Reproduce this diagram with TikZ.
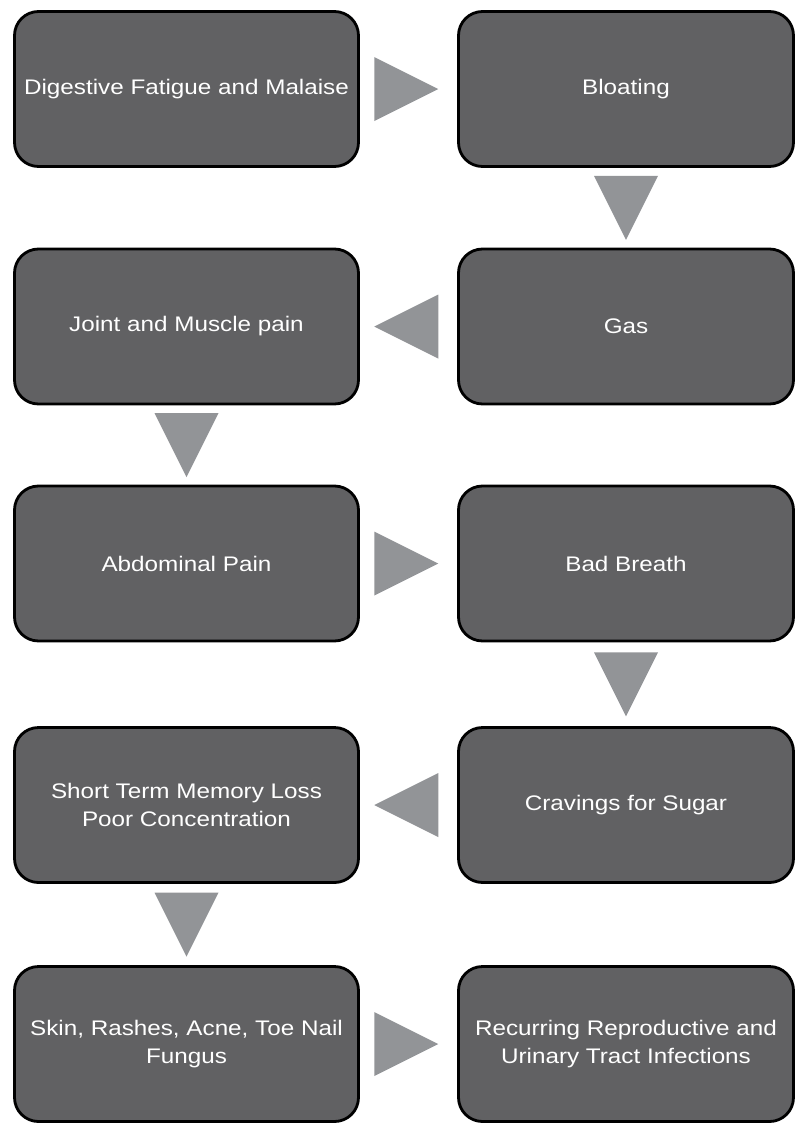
\documentclass[tikz,border=0pt]{standalone}
\usepackage{fontspec}
\setmainfont{Liberation Sans}[FakeStretch=1.15]
\usetikzlibrary{calc}
\definecolor{boxgrey}{HTML}{616163}
\definecolor{arrowgrey}{HTML}{929497}

\begin{document}
\begin{tikzpicture}[
  x=1cm,
  y=1cm,
  symptom/.style={draw=black, line width=2pt, rounded corners=0.6cm, fill=boxgrey, text=white, align=center, font=\fontsize{15}{20}\selectfont, minimum height=3.875cm, inner sep=4pt},
  leftbox/.style={symptom, minimum width=8.6cm},
  rightbox/.style={symptom, minimum width=8.375cm},
  flow/.style={fill=arrowgrey}
]
  \useasboundingbox (0,0) rectangle (19.875,-28.65);

  \node[leftbox]  (digest)   at (4.6625, -2.225)  {Digestive Fatigue and Malaise};
  \node[rightbox] (bloat)    at (15.65, -2.225)   {Bloating};
  \node[rightbox] (gas)      at (15.65, -8.1625)  {Gas};
  \node[leftbox]  (joint)    at (4.6625, -8.1625) {Joint and Muscle pain};
  \node[leftbox]  (abdomen)  at (4.6625, -14.0875) {Abdominal Pain};
  \node[rightbox] (breath)   at (15.65, -14.0875) {Bad Breath};
  \node[rightbox] (sugar)    at (15.65, -20.125)  {Cravings for Sugar};
  \node[leftbox]  (memory)   at (4.6625, -20.125) {Short Term Memory Loss\\Poor Concentration};
  \node[leftbox]  (skin)     at (4.6625, -26.1)   {Skin, Rashes, Acne, Toe Nail\\Fungus};
  \node[rightbox] (infect)   at (15.65, -26.1)    {Recurring Reproductive and\\Urinary Tract Infections};

  % triangles between the boxes
  \foreach \a/\b/\r in {digest/bloat/0, bloat/gas/-90, gas/joint/180, joint/abdomen/-90,
                        abdomen/breath/0, breath/sugar/-90, sugar/memory/180, memory/skin/-90,
                        skin/infect/0} {
    \path ($(\a)!0.5!(\b)$) coordinate (mid);
    \fill[flow, shift={(mid)}, rotate=\r] (-0.8,0.8) -- (0.8,0) -- (-0.8,-0.8) -- cycle;
  }
\end{tikzpicture}
\end{document}
